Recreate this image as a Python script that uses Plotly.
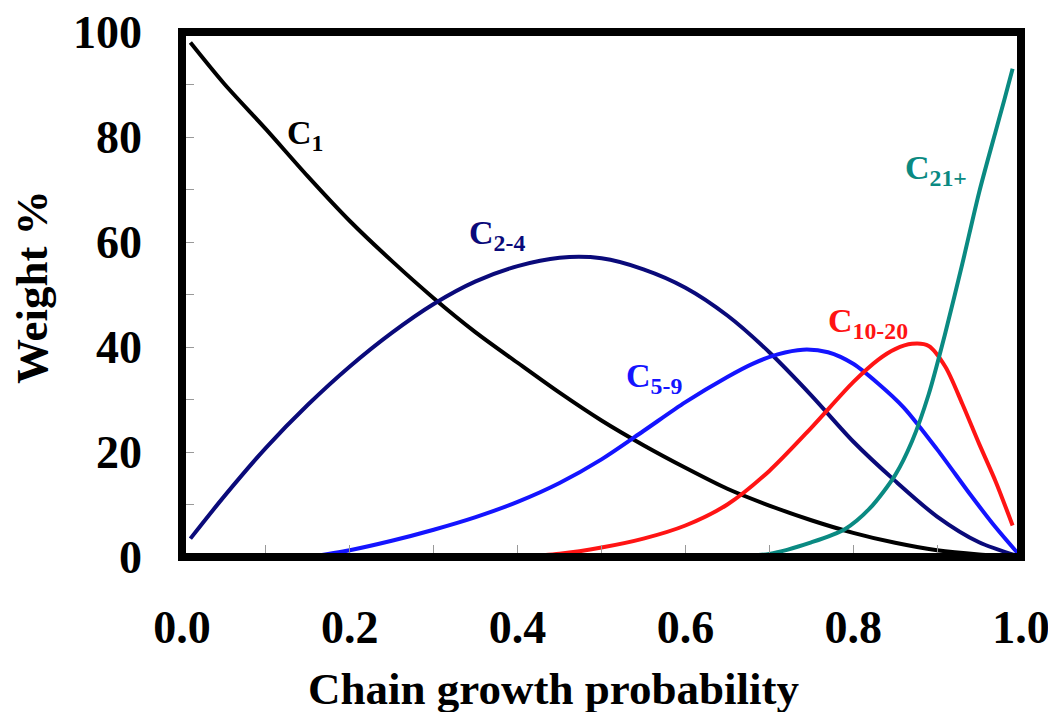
import plotly.graph_objects as go

# ---- data ----
c1_x = [0.01, 0.05, 0.1, 0.15, 0.2, 0.25, 0.3, 0.35, 0.4, 0.45, 0.5, 0.55, 0.6, 0.65, 0.7, 0.75, 0.8, 0.85, 0.9, 0.95, 1.0]
c1_y = [98, 90.2, 81.5, 72.5, 64, 56.4, 49.3, 42.8, 37, 31.3, 26, 21.3, 17.0, 13.0, 9.8, 7.0, 4.6, 2.7, 1.3, 0.5, 0]

c24_x = [0.01, 0.05, 0.1, 0.15, 0.2, 0.25, 0.3, 0.35, 0.4, 0.45, 0.5, 0.55, 0.6, 0.65, 0.7, 0.75, 0.8, 0.85, 0.9, 0.95, 1.0]
c24_y = [3.5, 11.5, 20.8, 29, 36.3, 42.7, 48.2, 52.5, 55.4, 57.0, 56.9, 54.8, 51.3, 46, 39, 30.8, 22.0, 14.5, 7.7, 2.8, 0]

c59_x = [0.15, 0.2, 0.25, 0.3, 0.35, 0.4, 0.45, 0.5, 0.55, 0.6, 0.65, 0.68, 0.71, 0.74, 0.77, 0.8, 0.83, 0.86, 0.9, 0.94, 0.97, 1.0]
c59_y = [0, 1.3, 3.1, 5.2, 7.6, 10.5, 14.1, 18.6, 24.0, 29.5, 34.3, 36.8, 38.6, 39.5, 39.0, 36.8, 33.0, 28.5, 20.5, 11.8, 5.6, 0]

c1020_x = [0.4, 0.45, 0.5, 0.55, 0.6, 0.65, 0.7, 0.75, 0.8, 0.83, 0.85, 0.87, 0.89, 0.91, 0.93, 0.95, 0.97, 0.99]
c1020_y = [0, 0.6, 1.8, 3.5, 6.0, 10.0, 16.4, 24.6, 33.3, 37.6, 39.6, 40.6, 40.2, 36.2, 29.2, 21.6, 14.3, 6.0]

c21_x = [0.0, 0.3, 0.6, 0.65, 0.7, 0.75, 0.79, 0.82, 0.85, 0.87, 0.89, 0.91, 0.93, 0.95, 0.97, 0.98, 0.99]
c21_y = [0, 0, 0, 0.1, 0.6, 2.8, 5.3, 9.3, 15.6, 22, 31, 42.8, 55.8, 69.4, 81.2, 87, 93]

series_names = ["C<sub>1</sub>", "C<sub>2-4</sub>", "C<sub>5-9</sub>", "C<sub>10-20</sub>", "C<sub>21+</sub>"]

x_tick_vals = [0.0, 0.2, 0.4, 0.6, 0.8, 1.0]
x_tick_text = ["0.0", "0.2", "0.4", "0.6", "0.8", "1.0"]
y_tick_vals = [0, 20, 40, 60, 80, 100]
y_tick_text = ["0", "20", "40", "60", "80", "100"]

x_title = "Chain growth probability"
y_title = "Weight %"

# ---- styling / layout ----
FONT = "Liberation Serif, Times New Roman, serif"
colors = ["#000000", "#0a0a7a", "#1414ff", "#ff1414", "#0a8a82"]
label_pos = [(0.147, 80.4), (0.375, 61.3), (0.563, 34.1), (0.818, 44.6), (0.899, 73.7)]

# the page body has an 8px margin: size the figure so it fits the 1056x720 window
OFF = 8
W, H = 1056 - 2 * OFF, 720 - 2 * OFF
# plot area in window pixels: x 182..1021, y 32..557
L, T = 182 - OFF, 32 - OFF
R = W - (1021 - OFF)
B = H - (557 - OFF)
pw, ph = W - L - R, H - T - B


def paper_x(px):
    return (px - OFF - L) / pw


def paper_y(py):
    return (H - B - (py - OFF)) / ph


fig = go.Figure()
all_x = [c1_x, c24_x, c59_x, c1020_x, c21_x]
all_y = [c1_y, c24_y, c59_y, c1020_y, c21_y]
for xs, ys, col, name in zip(all_x, all_y, colors, series_names):
    fig.add_trace(go.Scatter(
        x=xs, y=ys, mode="lines", name=name,
        line=dict(color=col, width=4, shape="spline", smoothing=0.8),
        showlegend=False, hoverinfo="skip",
    ))

for (lx, ly), col, name in zip(label_pos, colors, series_names):
    fig.add_annotation(
        x=lx, y=ly, xref="x", yref="y", text=name, showarrow=False,
        font=dict(family=FONT, size=34, color=col, weight="bold"),
        xanchor="center", yanchor="middle",
    )

# axis titles
fig.add_annotation(
    x=paper_x(553), y=paper_y(689), xref="paper", yref="paper",
    text=x_title, showarrow=False, xanchor="center", yanchor="middle",
    font=dict(family=FONT, size=45, color="black", weight="bold"),
)
fig.add_annotation(
    x=paper_x(32), y=paper_y(287), xref="paper", yref="paper",
    text=y_title, showarrow=False, textangle=-90, xanchor="center", yanchor="middle",
    font=dict(family=FONT, size=45, color="black", weight="bold"),
)

# frame
fig.add_shape(type="rect", xref="x domain", yref="y domain", x0=0, x1=1, y0=0, y1=1,
              line=dict(color="black", width=8), layer="above")

tickfont = dict(family=FONT, size=46, color="black", weight="bold")
fig.update_xaxes(
    range=[0, 1], showgrid=False, zeroline=False, showline=False,
    tickmode="array", tickvals=x_tick_vals, ticktext=x_tick_text,
    ticks="inside", ticklen=12, tickwidth=1, tickcolor="#999999",
    minor=dict(ticks="inside", dtick=0.1, tick0=0, ticklen=12, tickwidth=1, tickcolor="#999999"),
    tickfont=tickfont, ticklabelstandoff=39, ticklabeloverflow="allow",
)
fig.update_yaxes(
    range=[0, 100], showgrid=False, zeroline=False, showline=False,
    tickmode="array", tickvals=y_tick_vals, ticktext=y_tick_text,
    ticks="inside", ticklen=12, tickwidth=1, tickcolor="#999999",
    minor=dict(ticks="inside", dtick=10, tick0=0, ticklen=12, tickwidth=1, tickcolor="#999999"),
    tickfont=tickfont, ticklabelstandoff=39, ticklabeloverflow="allow",
)
fig.update_layout(
    width=W, height=H, autosize=False,
    margin=dict(l=L, r=R, t=T, b=B, autoexpand=False),
    plot_bgcolor="white", paper_bgcolor="white",
)
fig.write_html("out.html")
